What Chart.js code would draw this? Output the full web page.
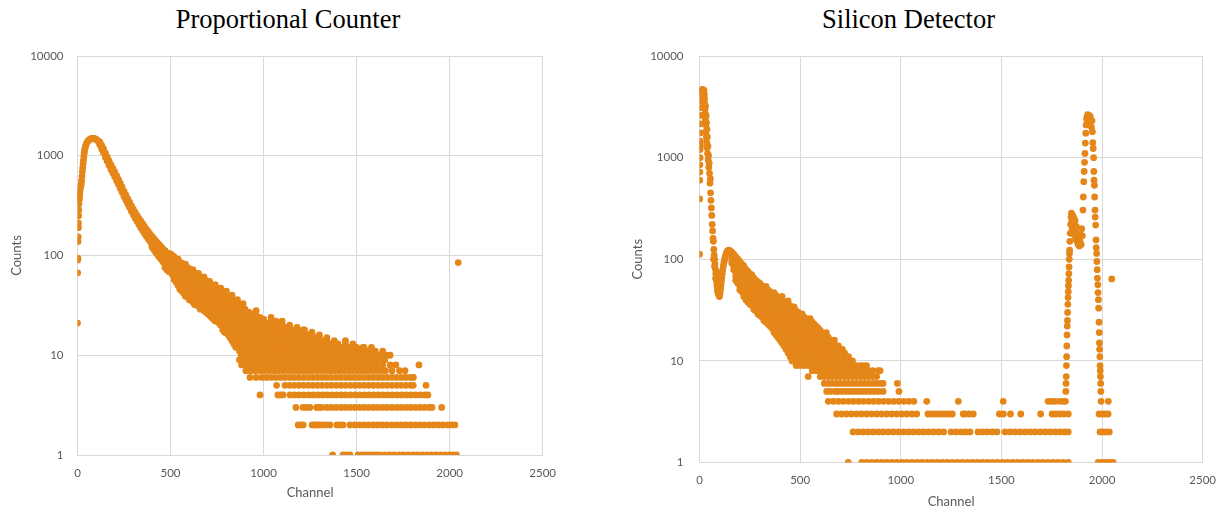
<!DOCTYPE html>
<html>
<head>
<meta charset="utf-8">
<title>Proportional Counter / Silicon Detector</title>
<script src="https://cdn.jsdelivr.net/npm/chart.js@4.4.1/dist/chart.umd.min.js"></script>
<style>
  body { margin: 0; width: 1224px; height: 512px; background: #fff; position: relative; overflow: hidden; }
  .title { position: absolute; top: 3px; width: 400px; text-align: center; font-family: "Liberation Serif", serif; font-size: 26.5px; line-height: 32px; color: #000; }
  .box { position: absolute; top: 0; height: 512px; }
</style>
</head>
<body>
<div class="title" style="left:88px">Proportional Counter</div>
<div class="title" style="left:708.5px">Silicon Detector</div>
<div class="box" style="left:0;width:560px"><canvas id="pcChart"></canvas></div>
<div class="box" style="left:612px;width:612px"><canvas id="siChart"></canvas></div>
<script>
// axes
const yTicks = [1, 10, 100, 1000, 10000];
const xMax = 2500;
const xStep = 500;

// ---- Proportional Counter ----
// [channel, counts]
const pcRise = [[0,21],[1,67],[2,94],[2,90],[3,138],[4,154],[5,212],[5,190],[6,250],[7,286],[8,330],[9,360],[10,380],[11,400],[12,420],
  [14,450],[16,480],[18,500],[20,520],[22,560],[24,620],[26,690],[28,760],[30,830],[32,900],[34,980],[36,1060],[38,1130],[41,1200],
  [44,1260],[48,1320],[52,1370],[57,1410],[62,1440],[68,1465],[74,1480],[80,1490],[86,1490],[92,1480],[98,1465],[104,1440],[110,1410],[116,1370]];
// [channel, counts seen at that channel...]
const pcBand = [
  [120,1380,1330,1290],[130,1270,1220,1170],[140,1170,1120,1070],[150,1060,1010,960],[160,970,920,880],[170,890,845,800],
  [180,810,770,730],[190,745,705,670],[200,690,650,615],[210,630,595,560],[220,580,545,515],[230,530,500,470],[240,485,455,430],
  [250,440,415,390],[260,405,380,358],[270,370,348,328],[280,342,322,303],[290,315,296,278],[300,292,273,256],[310,270,252,236],
  [320,252,235,220],[330,235,218,204],[340,222,205,190],[350,208,192,178],[360,196,180,166],[370,184,169,156],[380,174,160,146],
  [390,164,150,138],[400,156,142,130,122],[410,148,135,123,115],[420,141,128,117,108],[430,134,121,110,102],[440,128,116,105,96],
  [450,122,110,100,91],[460,116,105,95,86],[470,112,101,91,82,76],[480,107,97,87,79,72],[490,104,93,84,76,69],
  [500,104,95,87,80,73,68],[510,100,91,84,77,70,64],[520,97,88,81,74,68,62,57],[530,90,83,76,70,64,58,54],
  [540,92,84,77,70,64,59,54,50],[550,86,79,72,66,60,55,50,46],[560,84,77,70,64,58,53,48,44],[570,80,73,67,61,56,51,46,42],
  [580,82,75,68,62,57,52,47,43,39],[590,76,70,64,58,53,48,44,40],[600,74,68,62,57,52,47,43,39,36],[610,71,65,59,54,49,45,41,37],
  [620,72,66,60,55,50,45,41,37,34],[630,67,61,56,51,46,42,38,35,32],[640,64,58,53,48,44,40,36,33],[650,66,60,55,50,45,41,37,34,31],
  [660,60,55,50,45,41,37,34,31,29],[670,58,53,48,44,40,36,33,30],[680,61,55,50,45,41,37,34,31,28],[690,56,51,46,42,38,35,32,29,27],
  [700,53,48,44,40,36,33,30,28,26],[710,55,50,45,41,37,34,31,28,25],[720,50,46,42,38,35,32,29,27,24],[730,48,44,40,36,33,30,28,25,23],
  [740,51,46,42,38,35,32,29,26,24,22],[750,46,42,38,35,32,29,27,24,22],[760,44,40,37,34,31,28,26,23,21],
  [770,47,43,39,35,32,29,27,24,22,20],[780,42,38,35,32,29,27,24,22,20,18],[790,40,37,34,31,28,26,23,21,19,17],
  [800,44,40,36,33,30,27,25,23,21,19,17],[810,39,35,32,29,27,24,22,20,18,16],[820,37,34,31,28,26,23,21,19,17,15],
  [830,40,36,33,30,27,25,22,20,18,16,14],[840,35,32,29,27,24,22,20,18,16,14,13],[850,34,31,28,26,23,21,19,17,15,14,12],
  [860,36,33,30,27,24,22,20,18,16,15,13,12],[870,32,29,27,24,22,20,18,16,15,13,12,11],[880,31,28,26,23,21,19,17,16,14,13,12,11,10],
  [890,33,30,27,25,22,20,18,17,15,14,13,12,11,10],[900,29,27,24,22,20,18,17,15,14,13,12,11,10],
  [920,27,24,22,20,18,16,15,14,13,12,11,10],[940,26,24,22,20,18,16,15,14,13,12,11,10],[960,28,25,22,20,18,16,15,14,13,12,11,10],
  [980,24,22,20,18,16,15,14,13,12,11,10],[1000,23,21,19,17,16,15,14,13,12,11,10],[1020,21,19,17,16,15,14,13,12,11,10],
  [1040,24,22,20,18,16,15,14,13,12,11,10],[1060,21,19,17,16,15,14,13,12,11,10],[1080,20,18,17,16,15,14,13,12,11,10],
  [1100,22,20,18,16,15,14,13,12,11,10],[1120,19,18,17,16,15,14,13,12,11,10],[1140,20,18,16,15,14,13,12,11,10],
  [1160,18,17,16,15,14,13,12,11,10],[1180,19,17,16,15,14,13,12,11,10],[1200,17,16,15,14,13,12,11,10],
  [1220,18,16,15,14,13,12,11,10],[1240,16,15,14,13,12,11,10],[1260,17,16,15,14,13,12,11,10],[1280,15,14,13,12,11,10],
  [1300,16,15,14,13,12,11,10],[1320,14,13,12,11,10],[1340,15,14,13,12,11,10],[1360,13,12,11,10],[1380,14,13,12,11,10],
  [1400,13,12,11,10],[1420,12,11,10],[1440,14,13,12,11,10],[1460,12,11,10],[1480,13,12,11,10],[1500,12,11,10],[1520,11,10],
  [1540,12,11,10],[1560,11,10],[1580,12,11,10],[1600,11,10],[1620,10],[1640,11,10],[1660,10],[1680,10]];
const pcOutliers = [[981,22],[1067,22],[1213,18],[1534,12],[2046,85]];
// channels where the counts sit on one integer level
const pcRow9 = [870,895,920,945,970,995,1020,1045,1070,1095,1120,1145,1170,1195,1220,1245,1270,1295,1320,1345,1370,1395,1420,1445,1470,1495,1520,1545,1570,1595,1620,1652];
const pcRow8 = [882,910,935,960,985,1010,1035,1060,1085,1110,1135,1160,1185,1210,1235,1260,1285,1310,1335,1360,1385,1410,1435,1460,1485,1510,1535,1560,1585,1610,1640,1680,1711,1835];
const pcRow7 = [905,930,955,980,1005,1030,1055,1080,1105,1130,1155,1180,1205,1230,1255,1280,1305,1330,1355,1380,1405,1430,1455,1480,1505,1530,1555,1580,1605,1630,1655,1690,1730,1760];
const pcRow6 = [927,960,990,1015,1040,1065,1090,1115,1140,1165,1190,1215,1240,1265,1290,1315,1340,1365,1390,1415,1440,1465,1490,1515,1540,1565,1590,1615,1640,1665,1690,1715,1740,1765,1790,1805];
const pcRow5 = [1070,1115,1140,1165,1190,1215,1240,1265,1290,1315,1340,1365,1390,1415,1440,1465,1490,1515,1540,1565,1590,1615,1640,1665,1690,1715,1740,1765,1790,1804,1873];
const pcRow4 = [981,1077,1091,1105,1142,1167,1192,1217,1242,1267,1292,1317,1342,1367,1392,1417,1442,1467,1492,1517,1542,1567,1592,1617,1642,1667,1692,1717,1742,1767,1792,1817,1842,1867,1883];
const pcRow3 = [1174,1212,1230,1249,1285,1299,1313,1340,1365,1390,1415,1440,1465,1490,1515,1540,1565,1590,1615,1640,1665,1690,1715,1740,1765,1790,1815,1840,1865,1890,1905,1957];
const pcRow2 = [1186,1200,1213,1261,1274,1287,1303,1320,1338,1357,1394,1410,1427,1464,1489,1514,1539,1564,1589,1614,1639,1664,1689,1714,1739,1764,1789,1814,1839,1864,1889,1914,1939,1964,1989,2010,2028];
const pcRow1 = [1371,1427,1445,1464,1508,1528,1548,1568,1588,1608,1625,1652,1677,1702,1727,1752,1777,1802,1827,1852,1877,1902,1927,1952,1977,2002,2020,2037];

// ---- Silicon Detector ----
const siSpike = [[0,112],[1,392],[1,600],[2,720],[2,850],[3,1000],[3,1200],[4,1450],[4,1750],[5,2150],[5,1300],[6,2600],[7,3100],
  [8,3600],[9,4000],[10,4400],[12,4600],[14,4700],[16,4650],[18,4500],[20,4300],[22,4600],[24,4200],[25,3800],[26,3400],[27,3000],
  [28,2700],[29,2400],[30,3200],[31,2100],[32,1800],[33,2600],[34,1600],[35,2200],[36,1400],[37,1900],[38,1250],[39,1600],[40,1100],
  [42,1300],[43,950],[45,1050],[46,800],[48,880],[50,700],[52,560],[54,620],[55,450],[57,380],[59,320],[61,270],[63,220],[65,190],
  [67,160],[69,150],[70,100],[71,125],[73,110],[75,100],[75,85],[77,90],[79,80],[80,65],[81,72],[83,66],[85,60],[85,75],[87,55],
  [89,50],[90,58],[91,48],[93,46],[95,52],[95,62],[97,44],[99,43],[101,45],[103,48],[105,52],[107,56],[109,61],[111,66],[113,72],
  [115,78],[118,85],[121,92],[124,98],[127,104],[130,109],[133,114],[136,118],[140,121],[144,123],[148,122],[152,120],[156,116]];
const siBand = [
  [160,118,108,99,92],[170,112,103,94,86,79],[180,106,97,89,82,75,68,62],[190,100,92,84,77,70,64,58],
  [200,95,87,80,73,67,61,55,50],[210,90,82,75,69,63,58,53,48],[220,86,79,72,66,60,55,50,46,43],[230,80,73,67,61,56,51,47,43,40],
  [240,76,70,64,58,53,49,45,41,38],[250,72,66,60,55,50,46,42,39,36],[260,70,64,58,53,49,45,41,38,35],[270,65,60,55,50,46,42,38,35,32],
  [280,62,57,52,48,44,40,37,34,31],[290,60,55,50,46,42,38,35,32,29],[300,58,53,49,45,41,37,34,31,28],[310,55,50,46,42,38,35,32,29,27],
  [320,52,48,44,40,37,34,31,28,25],[330,54,49,45,41,38,34,31,29,26,24],[340,50,46,42,38,35,32,29,27,25,23],
  [350,48,44,40,37,34,31,28,26,24,22],[360,46,42,39,35,32,30,27,25,23,21],[370,47,43,39,36,33,30,27,25,23,21,19],
  [380,44,40,37,34,31,28,26,24,22,20,18],[390,42,39,35,32,30,27,25,23,21,19,17],[400,41,37,34,31,29,26,24,22,20,18,16],
  [410,43,39,36,33,30,27,25,23,21,19,17,15],[420,38,35,32,29,27,25,22,20,19,17,15,14],[430,37,34,31,28,26,24,22,20,18,16,15,13],
  [440,39,35,32,29,27,24,22,20,18,17,15,14,12],[450,35,32,29,27,24,22,20,18,17,15,14,12,11],[460,33,30,28,25,23,21,19,17,16,14,13,12,10],
  [470,34,31,28,26,24,22,20,18,16,15,14,12,11,10],[480,31,28,26,24,22,20,18,16,15,14,13,12,11,10],
  [490,30,27,25,23,21,19,17,16,15,13,12,11,10],[500,28,26,24,22,20,18,17,15,14,13,12,11,10],[510,29,27,24,22,20,19,17,16,14,13,12,11,10],
  [520,27,25,23,21,19,17,16,15,13,12,11,10],[530,26,24,22,20,18,17,15,14,13,12,11,10],[540,25,23,21,19,18,16,15,14,13,12,11,10],
  [550,26,24,22,20,18,17,15,14,13,12,11,10],[560,24,22,20,18,17,15,14,13,12,11,10],[570,23,21,19,18,16,15,14,13,12,11,10],
  [580,22,20,19,17,16,15,14,13,12,11,10],[590,21,19,18,16,15,14,13,12,11,10],[600,20,18,17,16,15,14,13,12,11,10],
  [610,19,18,17,16,15,14,13,12,11,10],[620,18,17,16,15,14,13,12,11,10],[630,19,17,16,15,14,13,12,11,10],[640,17,16,15,14,13,12,11,10],
  [650,16,15,14,13,12,11,10],[660,15,14,13,12,11,10],[670,16,14,13,12,11,10],[680,14,13,12,11,10],[690,14,13,12,11,10],
  [700,13,12,11,10],[710,13,12,11,10],[720,12,11,10],[730,11,10],[740,11,10],[760,10]];
const siPeak = [[1818,4],[1820,5],[1821,6],[1822,7],[1823,9],[1824,11],[1825,14],[1826,18],[1827,22],[1828,25],[1829,30],[1830,36],
  [1831,42],[1832,48],[1833,55],[1834,62],[1835,72],[1836,84],[1837,100],[1838,114],[1839,123],[1840,150],[1842,180],[1844,220],
  [1846,260],[1848,285],[1850,240],[1852,200],[1854,270],[1856,230],[1858,180],[1860,255],[1862,210],[1864,170],[1866,240],[1868,190],
  [1870,160],[1872,210],[1875,150],[1878,175],[1881,140],[1884,160],[1887,135],[1890,150],[1893,175],[1896,140],[1899,200],[1902,170],
  [1905,305],[1907,410],[1909,580],[1911,730],[1913,900],[1915,1100],[1917,1390],[1919,1740],[1921,2100],[1923,2400],[1926,2550],
  [1929,2650],[1932,2500],[1935,2600],[1938,2400],[1941,2550],[1944,2300],[1947,2000],[1950,2300],[1952,1800],[1954,1400],[1956,1230],
  [1958,1000],[1959,730],[1960,600],[1962,535],[1963,410],[1965,305],[1966,260],[1968,217],[1970,155],[1971,130],[1973,114],[1974,95],
  [1976,79],[1977,65],[1979,56],[1980,47],[1982,40],[1983,33],[1985,24],[1986,19],[1987,15],[1988,13],[1989,11],[1990,9],[1991,8],
  [1992,7],[1993,6],[1994,5],[1995,4],[2048,64]];
const siRow9 = [480,500,520,540,560,580,600,620,640,660,680,700,720,740,760,780,800,813,830];
const siRow8 = [560,580,600,620,640,660,680,700,720,740,760,780,800,820,840,860,887,897];
const siRow7 = [540,600,620,640,660,680,700,720,740,760,780,800,820,840,860,880];
const siRow6 = [620,640,660,680,700,720,740,760,780,800,820,840,860,880,900,912,983];
const siRow5 = [632,650,673,690,710,730,750,770,790,810,830,850,870,890,912,991];
const siRow4 = [640,665,690,715,740,765,790,815,840,865,890,915,940,965,990,1015,1040,1065,1129,1286,1509,1732,1750,1767,1790,1807,2031];
const siRow3 = [681,705,730,755,780,805,830,855,880,905,930,955,980,1005,1030,1055,1079,1135,1153,1171,1187,1205,1222,1240,1256,1310,1320,1340,1360,
  1490,1510,1545,1596,1695,1752,1770,1790,1810,1832,1985,2000,2015,2030];
const siRow2 = [763,788,813,838,863,888,913,938,963,988,1013,1038,1063,1088,1113,1138,1163,1188,1213,1250,1275,1300,1322,1344,1384,1407,1430,1455,1478,
  1518,1543,1568,1593,1618,1643,1668,1693,1718,1743,1768,1793,1815,1832,1990,2005,2020,2036];
const siRow1 = [739,806,831,856,881,906,931,956,981,1006,1031,1056,1081,1106,1131,1156,1181,1206,1231,1256,1281,1306,1331,1356,1381,1406,1431,
  1456,1481,1506,1531,1556,1581,1606,1631,1656,1681,1706,1731,1756,1781,1806,1832,1981,2000,2018,2036,2055];

// helpers to turn the lists into {x, y} points
function pairPoints(list) {
  return list.map(p => ({ x: p[0], y: p[1] }));
}
function columnPoints(cols) {
  const out = [];
  cols.forEach(c => c.slice(1).forEach(v => out.push({ x: c[0], y: v })));
  return out;
}
function rowPoints(channels, level) {
  return channels.map(ch => ({ x: ch, y: level }));
}

const pcPoints = [].concat(
  pairPoints(pcRise), columnPoints(pcBand), pairPoints(pcOutliers),
  rowPoints(pcRow9, 9), rowPoints(pcRow8, 8), rowPoints(pcRow7, 7), rowPoints(pcRow6, 6),
  rowPoints(pcRow5, 5), rowPoints(pcRow4, 4), rowPoints(pcRow3, 3), rowPoints(pcRow2, 2), rowPoints(pcRow1, 1)
);
const siPoints = [].concat(
  pairPoints(siSpike), columnPoints(siBand), pairPoints(siPeak),
  rowPoints(siRow9, 9), rowPoints(siRow8, 8), rowPoints(siRow7, 7), rowPoints(siRow6, 6), rowPoints(siRow5, 5),
  rowPoints(siRow4, 4), rowPoints(siRow3, 3), rowPoints(siRow2, 2), rowPoints(siRow1, 1)
);

const ORANGE = '#e58619';
const GRID = '#d9d9d9';
const TEXT = '#595959';
Chart.defaults.font.family = 'Lato';

function makeChart(id, points, box) {
  return new Chart(document.getElementById(id), {
    type: 'scatter',
    data: {
      datasets: [{
        data: points,
        backgroundColor: ORANGE,
        borderWidth: 0,
        pointRadius: 3.4,
        pointHoverRadius: 3.4
      }]
    },
    options: {
      responsive: true,
      maintainAspectRatio: false,
      animation: false,
      layout: { padding: { left: 0, right: box.right, top: 56, bottom: 0 } },
      plugins: { legend: { display: false }, tooltip: { enabled: false } },
      scales: {
        x: {
          type: 'linear',
          min: 0,
          max: xMax,
          ticks: { stepSize: xStep, padding: 11, color: TEXT, font: { size: 11.5 }, callback: v => String(v) },
          grid: { color: GRID, drawTicks: false },
          border: { color: GRID },
          title: { display: true, text: 'Channel', color: TEXT, font: { size: 13 }, padding: { top: 0, bottom: box.xTitlePad } },
          afterFit: s => { s.height = box.xHeight; s.paddingLeft = 0; s.paddingRight = 0; }
        },
        y: {
          type: 'logarithmic',
          min: 1,
          max: 10000,
          afterBuildTicks: s => { s.ticks = yTicks.map(v => ({ value: v })); },
          ticks: { padding: box.yTickPad, color: TEXT, font: { size: 11.5 }, callback: v => String(v) },
          grid: { color: GRID, drawTicks: false },
          border: { color: GRID },
          title: { display: true, text: 'Counts', color: TEXT, font: { size: 13 }, padding: { top: box.yTitlePad, bottom: 0 } },
          afterFit: s => { s.width = box.yWidth; }
        }
      }
    }
  });
}

makeChart('pcChart', pcPoints, { right: 17.3, yWidth: 77.5, xHeight: 57, yTickPad: 14, yTitlePad: 8.9, xTitlePad: 11.2 });
makeChart('siChart', siPoints, { right: 21.3, yWidth: 87.5, xHeight: 49.5, yTickPad: 16, yTitlePad: 18.2, xTitlePad: 2.2 });
</script>
</body>
</html>
